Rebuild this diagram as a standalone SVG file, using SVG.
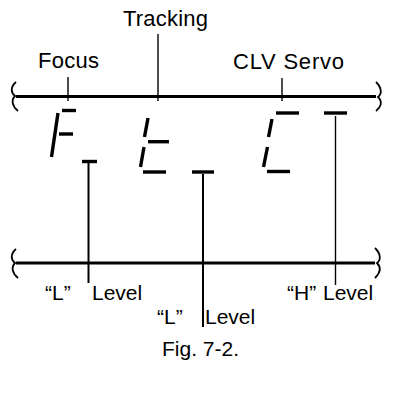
<svg xmlns="http://www.w3.org/2000/svg" width="393" height="406" viewBox="0 0 393 406">
<style>
text{font-family:"Liberation Sans",Arial,sans-serif;font-size:21px;fill:#000}
.top{font-size:22px}
.rail{stroke:#000;stroke-width:3;fill:none}
.brk{stroke:#000;stroke-width:1.8;fill:none}
.tick{stroke:#000;stroke-width:1.4}
.lead{stroke:#000;stroke-width:2}
.seg{stroke:#000;stroke-width:3.4;stroke-linecap:butt}
</style>
<rect width="393" height="406" fill="#fff"/>
<g id="rails">
<line class="rail" x1="16" y1="96.5" x2="376" y2="96.5"/>
<path class="brk" d="M16,82 C10,87 11,93 15,96 C11,100 12,106 18,111"/>
<path class="brk" d="M376,82 C382,88 382,94 378,97 C383,102 381,107 376,111"/>
<line class="rail" x1="16" y1="263" x2="375" y2="263"/>
<path class="brk" d="M16,249 C10,254 11,260 15,263 C11,267 12,273 18,278"/>
<path class="brk" d="M375,248 C381,254 381,260 377,263 C382,268 380,273 375,278"/>
</g>
<g id="display">
<line class="seg" x1="62" y1="110.5" x2="76" y2="110.5"/>
<line class="seg" x1="58" y1="113" x2="51.5" y2="157"/>
<line class="seg" x1="59" y1="134" x2="73" y2="134"/>
<line class="seg" x1="82" y1="161.5" x2="97" y2="161.5"/>
<line class="seg" x1="148" y1="118" x2="144.5" y2="137"/>
<line class="seg" x1="148" y1="141.7" x2="169" y2="141.7"/>
<line class="seg" x1="144" y1="147" x2="140.5" y2="167"/>
<line class="seg" x1="143" y1="172" x2="166" y2="172"/>
<line class="seg" x1="192" y1="172" x2="214" y2="172"/>
<line class="seg" x1="276" y1="113" x2="299" y2="113"/>
<line class="seg" x1="272" y1="119" x2="268.5" y2="137"/>
<line class="seg" x1="267.5" y1="147" x2="263.5" y2="167"/>
<line class="seg" x1="267" y1="171.5" x2="290" y2="171.5"/>
<line class="seg" x1="324" y1="113" x2="347" y2="113"/>
</g>
<g id="connectors">
<line class="tick" x1="68" y1="77" x2="68" y2="101"/>
<line class="tick" x1="158" y1="34" x2="158" y2="101"/>
<line class="tick" x1="282" y1="78" x2="282" y2="101"/>
<line class="lead" x1="88.5" y1="163" x2="88.5" y2="283"/>
<line class="lead" x1="203" y1="174" x2="203" y2="327"/>
<line class="tick" x1="335.5" y1="116" x2="335.5" y2="285"/>
</g>
<g id="label-focus"><text class="top" x="38" y="68" textLength="61">Focus</text></g>
<g id="label-tracking"><text class="top" x="123" y="26" textLength="85">Tracking</text></g>
<g id="label-clv"><text class="top" x="233" y="69" textLength="111">CLV Servo</text></g>
<g id="label-l1"><text x="45" y="300">“L”</text><text x="92" y="300">Level</text></g>
<g id="label-l2"><text x="157" y="324">“L”</text><text x="205" y="324">Level</text></g>
<g id="label-h"><text x="287" y="300">“H”</text><text x="323" y="300">Level</text></g>
<g id="caption"><text x="162" y="356">Fig. 7-2.</text></g>
</svg>
